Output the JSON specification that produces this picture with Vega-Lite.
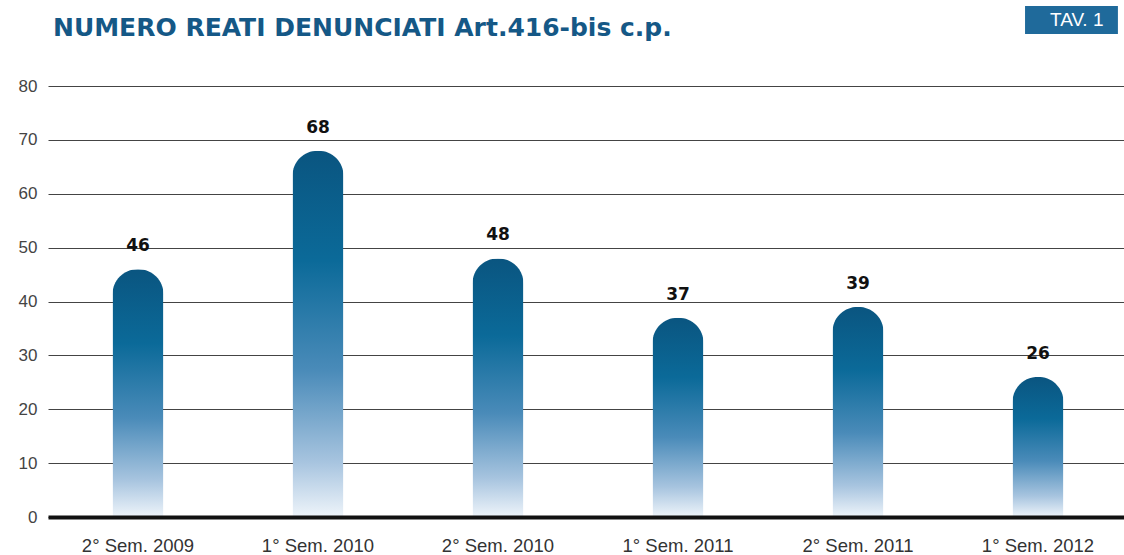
{
  "$schema": "https://vega.github.io/schema/vega-lite/v6.json",
  "width": 1080,
  "height": 431,
  "autosize": {"type": "none"},
  "padding": {"left": 48, "top": 86, "right": 0, "bottom": 38},
  "background": "white",
  "title": {
    "text": "NUMERO REATI DENUNCIATI Art.416-bis c.p.",
    "anchor": "start",
    "frame": "group",
    "dx": 5,
    "dy": 55,
    "offset": 0,
    "baseline": "alphabetic",
    "font": "DejaVu Sans",
    "fontSize": 25,
    "fontWeight": "bold",
    "color": "#155886"
  },
  "config": {
    "view": {"stroke": null},
    "axis": {"labelFont": "Liberation Sans", "labelColor": "#333333"}
  },
  "datasets": {
    "bars": [
      {"periodo": "2° Sem. 2009", "reati": 46},
      {"periodo": "1° Sem. 2010", "reati": 68},
      {"periodo": "2° Sem. 2010", "reati": 48},
      {"periodo": "1° Sem. 2011", "reati": 37},
      {"periodo": "2° Sem. 2011", "reati": 39},
      {"periodo": "1° Sem. 2012", "reati": 26}
    ],
    "tag": [{"etichetta": "TAV. 1"}]
  },
  "layer": [
    {
      "data": {"name": "bars"},
      "mark": {
        "type": "bar",
        "size": 51,
        "cornerRadiusTopLeft": 25,
        "cornerRadiusTopRight": 25,
        "color": {
          "gradient": "linear",
          "x1": 0, "y1": 0, "x2": 0, "y2": 1,
          "stops": [
            {"offset": 0, "color": "#0a5580"},
            {"offset": 0.3, "color": "#0b6a99"},
            {"offset": 0.6, "color": "#4a8bb9"},
            {"offset": 0.85, "color": "#a7c4df"},
            {"offset": 1, "color": "#eef4fa"}
          ]
        }
      },
      "encoding": {
        "x": {
          "field": "periodo",
          "type": "nominal",
          "sort": null,
          "title": null,
          "scale": {"paddingInner": 0, "paddingOuter": 0},
          "axis": {
            "labelAngle": 0,
            "labelFontSize": 18.5,
            "labelPadding": 19,
            "ticks": false,
            "tickSize": 0,
            "domain": true,
            "domainColor": "#111111",
            "domainWidth": 4,
            "zindex": 1
          }
        },
        "y": {
          "field": "reati",
          "type": "quantitative",
          "title": null,
          "scale": {"domain": [0, 80], "nice": false},
          "axis": {
            "values": [0, 10, 20, 30, 40, 50, 60, 70, 80],
            "labelFontSize": 17,
            "labelPadding": 11,
            "labelColor": "#444444",
            "ticks": false,
            "domain": false,
            "grid": true,
            "gridColor": "#444444",
            "gridWidth": 1,
            "zindex": 0
          }
        }
      }
    },
    {
      "data": {"name": "bars"},
      "mark": {
        "type": "text",
        "dy": -23,
        "baseline": "middle",
        "font": "DejaVu Sans",
        "fontSize": 17,
        "fontWeight": "bold",
        "color": "#111111"
      },
      "encoding": {
        "x": {"field": "periodo", "type": "nominal", "sort": null},
        "y": {"field": "reati", "type": "quantitative"},
        "text": {"field": "reati", "type": "quantitative"}
      }
    },
    {
      "data": {"name": "tag"},
      "mark": {"type": "rect", "color": "#1f6a9b"},
      "encoding": {
        "x": {"datum": "1° Sem. 2012", "bandPosition": 0.428},
        "x2": {"datum": "1° Sem. 2012", "bandPosition": 0.944},
        "y": {"datum": 94.85},
        "y2": {"datum": 89.65}
      }
    },
    {
      "data": {"name": "tag"},
      "mark": {
        "type": "text",
        "font": "Liberation Sans",
        "fontSize": 19,
        "color": "white",
        "baseline": "middle"
      },
      "encoding": {
        "x": {"datum": "1° Sem. 2012", "bandPosition": 0.715},
        "y": {"datum": 92.2},
        "text": {"field": "etichetta"}
      }
    }
  ]
}
